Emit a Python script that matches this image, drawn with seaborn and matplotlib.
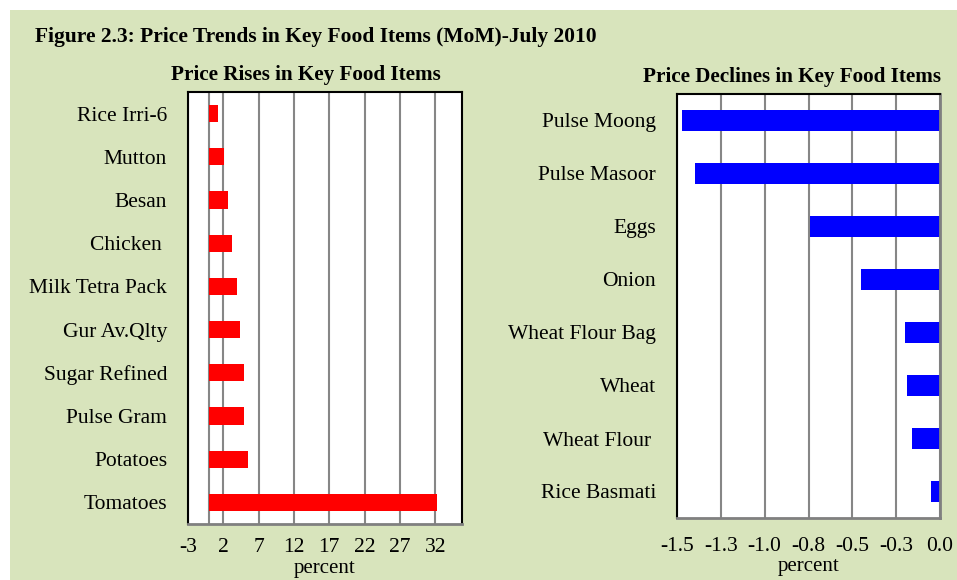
import matplotlib
matplotlib.use("Agg")
import matplotlib.pyplot as plt
import seaborn as sns

# --- Data ---
rise_items = ["Rice Irri-6", "Mutton", "Besan", "Chicken ", "Milk Tetra Pack",
              "Gur Av.Qlty", "Sugar Refined", "Pulse Gram", "Potatoes", "Tomatoes"]
rise_vals = [1.2, 2.1, 2.6, 3.2, 4.0, 4.3, 4.9, 4.9, 5.5, 32.3]
rise_ticks = [-3, 2, 7, 12, 17, 22, 27, 32]

decline_items = ["Pulse Moong", "Pulse Masoor", "Eggs", "Onion",
                 "Wheat Flour Bag", "Wheat", "Wheat Flour ", "Rice Basmati"]
decline_vals = [-1.47, -1.40, -0.74, -0.45, -0.20, -0.19, -0.16, -0.05]
decline_ticks = [-1.5, -1.25, -1.0, -0.75, -0.5, -0.25, 0.0]
decline_tick_labels = ["-1.5", "-1.3", "-1.0", "-0.8", "-0.5", "-0.3", "0.0"]

# --- Style ---
BG = "#D8E4BC"
GRID = "#868686"
plt.rcParams["font.family"] = ["Liberation Serif", "DejaVu Serif"]

W, H = 957, 580
fig = plt.figure(figsize=(W / 100, H / 100), dpi=100)
fig.patch.set_facecolor("white")
fig.add_artist(plt.Rectangle((10 / W, 0), 1, 570 / H, transform=fig.transFigure,
                             facecolor=BG, edgecolor="none", zorder=-10))


def px_axes(left, top, right, bottom):
    return fig.add_axes([left / W, 1 - bottom / H, (right - left) / W, (bottom - top) / H])


ax1 = px_axes(188, 92, 462, 524)
ax2 = px_axes(677, 94, 940, 518)

sns.barplot(x=rise_vals, y=rise_items, ax=ax1, color="#FF0000", width=0.4,
            saturation=1, edgecolor="none")
sns.barplot(x=decline_vals, y=decline_items, ax=ax2, color="#0000FF", width=0.38,
            saturation=1, edgecolor="none")

ax1.set_xlim(-3, 35.8)
ax1.set_xticks(rise_ticks)
ax1.set_xticklabels([str(t) for t in rise_ticks])
ax1.axvline(0, color=GRID, lw=1.5, zorder=0.5)

ax2.set_xlim(-1.5, 0)
ax2.set_xticks(decline_ticks)
ax2.set_xticklabels(decline_tick_labels)

# (axes, gray spines, top px, bottom px, tick pad, xlabel centre px)
for ax, gray_spines, top_px, bottom_px, pad, lab_y in [
        (ax1, ["bottom"], 92, 524, 10, 568),
        (ax2, ["bottom", "right"], 94, 518, 14, 566)]:
    ax.set_facecolor("white")
    ax.grid(axis="x", color=GRID, lw=1.5)
    ax.grid(axis="y", visible=False)
    ax.set_axisbelow(True)
    for name, sp in ax.spines.items():
        sp.set_visible(True)
        if name in gray_spines:
            sp.set_color("#808080")
            sp.set_linewidth(2)
        else:
            sp.set_color("black")
            sp.set_linewidth(1.5)
    ax.tick_params(axis="x", length=0, pad=pad, labelsize=15.5)
    ax.tick_params(axis="y", length=0, pad=15, labelsize=15.5)
    ax.set_ylabel("")
    ax.set_xlabel("percent", fontsize=15)
    ax.xaxis.set_label_coords(0.5, -(lab_y - bottom_px) / (bottom_px - top_px))
    ax.xaxis.label.set_verticalalignment("center")

fig.text(35 / W, 1 - 37 / H, "Figure 2.3: Price Trends in Key Food Items (MoM)-July 2010",
         fontsize=15.5, fontweight="bold", ha="left", va="center")
fig.text(306 / W, 1 - 75 / H, "Price Rises in Key Food Items",
         fontsize=15.2, fontweight="bold", ha="center", va="center")
fig.text(792 / W, 1 - 77 / H, "Price Declines in Key Food Items",
         fontsize=15.2, fontweight="bold", ha="center", va="center")

fig.savefig("out.png", dpi=100, facecolor=fig.get_facecolor())
